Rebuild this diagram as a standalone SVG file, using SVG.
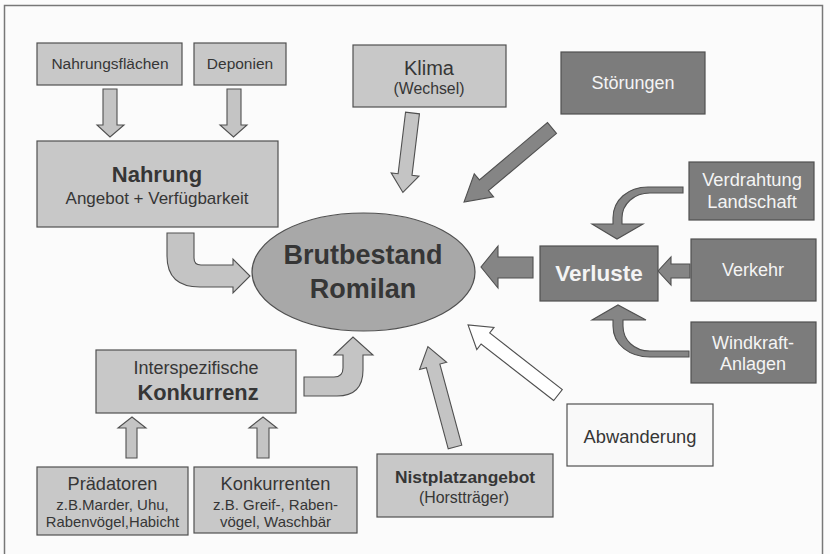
<svg xmlns="http://www.w3.org/2000/svg" width="830" height="554" viewBox="0 0 830 554">
<style>
text{font-family:"Liberation Sans",Arial,sans-serif;text-anchor:middle;fill:#363636}
.lb{fill:#c8c8c8;stroke:#505050;stroke-width:1.2}
.db{fill:#7c7c7c;stroke:#505050;stroke-width:1.2}
.wb{fill:#f9f9f9;stroke:#505050;stroke-width:1.2}
.dt{fill:#f4f4f4}
.b{font-weight:bold}
.la{fill:#c4c4c4;stroke:#505050;stroke-width:1.1;stroke-linejoin:miter}
.da{fill:#858585;stroke:#505050;stroke-width:1.1}
.wa{fill:#ffffff;stroke:#505050;stroke-width:1.1}
</style>
<rect x="0" y="0" width="830" height="554" fill="#fbfbfb"/>
<rect x="4.5" y="5.5" width="818" height="560" fill="none" stroke="#777" stroke-width="1.5"/>

<g id="connectors">
  <polygon class="la" points="103,89 117,89 117,125 124,125 110,137 97,125 103,125"/>
  <polygon class="la" points="227,89 241,89 241,125 247,125 233.5,137 220,125 227,125"/>
  <path class="la" d="M167,233 L194,233 L194,258 Q194,265 201,265 L233,265 L233,259 L250,276 L233,293 L233,287 L200,287 Q167,287 167,256 Z"/>
  <path class="la" d="M304,377 L334,377 Q343,377 343,368 L343,355 L334,355 L353,337 L373,355 L363,355 L363,370 Q363,396 337,396 L304,396 Z"/>
  <polygon class="la" points="0,-7 62,-7 62,-14 80,0 62,14 62,7 0,7" transform="translate(412.5,113) rotate(96.9)"/>
  <polygon class="da" points="0,-7 89,-7 89,-15 115,0 89,15 89,7 0,7" transform="translate(552,128) rotate(139.9)"/>
  <polygon class="la" points="0,-7 84,-7 84,-14 104,0 84,14 84,7 0,7" transform="translate(455,447) rotate(-105.1)"/>
  <polygon class="wa" points="0,-7 92,-7 92,-14 114,0 92,14 92,7 0,7" transform="translate(558,395) rotate(-142.1)"/>
  <polygon class="da" points="533,257 498,257 498,246 481,267 498,288 498,278 533,278"/>
  <polygon class="da" points="690,264 671,264 671,257 658,271 671,285 671,278 690,278"/>
  <path class="da" d="M683,187 L648,187 C628,187 613,200 613,218 L613,224 L592,224 L617,239 L643,224 L622,224 L622,218 C622,204 634,193 650,193 L683,193 Z"/>
  <path class="da" d="M689,351 L650,351 C634,351 623,340 623,326 L623,320 L646,320 L618,305 L592,320 L613,320 L613,326 C613,345 630,357 650,357 L689,357 Z"/>
  <polygon class="la" points="126,458 137,458 137,428 146,428 132,417 118,428 126,428"/>
  <polygon class="la" points="257,458 269,458 269,428 277,428 263,417 249,428 257,428"/>
</g>

<g id="nahrungsflaechen"><rect class="lb" x="37" y="43" width="145" height="42"/><text x="110" y="69" font-size="15.5">Nahrungsflächen</text></g>
<g id="deponien"><rect class="lb" x="194" y="43" width="92" height="42"/><text x="240" y="69" font-size="15.5">Deponien</text></g>
<g id="nahrung"><rect class="lb" x="37" y="141" width="241" height="86"/><text class="b" x="157" y="182" font-size="22">Nahrung</text><text x="157" y="204" font-size="17">Angebot + Verfügbarkeit</text></g>
<g id="klima"><rect class="lb" x="353" y="45" width="153" height="62"/><text x="429" y="75" font-size="20">Klima</text><text x="429" y="94" font-size="15.8">(Wechsel)</text></g>
<g id="stoerungen"><rect class="db" x="561" y="52" width="144" height="62"/><text class="dt" x="633" y="89" font-size="18">Störungen</text></g>
<g id="verdrahtung"><rect class="db" x="689" y="162" width="125" height="58"/><text class="dt" x="752" y="186" font-size="18.3">Verdrahtung</text><text class="dt" x="752" y="208" font-size="18.3">Landschaft</text></g>
<g id="verkehr"><rect class="db" x="691" y="239" width="125" height="62"/><text class="dt" x="753" y="276" font-size="18">Verkehr</text></g>
<g id="verluste"><rect class="db" x="540" y="246" width="118" height="55"/><text class="dt b" x="599" y="281" font-size="22.5">Verluste</text></g>
<g id="windkraft"><rect class="db" x="691" y="322" width="125" height="61"/><text class="dt" x="753" y="349" font-size="18">Windkraft-</text><text class="dt" x="753" y="370" font-size="18">Anlagen</text></g>
<g id="brutbestand"><ellipse cx="363.5" cy="272" rx="111.5" ry="59" fill="#a8a8a8" stroke="#505050" stroke-width="1.2"/><text class="b" x="363" y="264" font-size="27">Brutbestand</text><text class="b" x="363" y="298" font-size="27">Romilan</text></g>
<g id="konkurrenz"><rect class="lb" x="96" y="350" width="200" height="63"/><text x="196" y="374" font-size="18">Interspezifische</text><text class="b" x="198" y="400" font-size="21.8">Konkurrenz</text></g>
<g id="praedatoren"><rect class="lb" x="37" y="467" width="151" height="68"/><text x="112.5" y="490" font-size="18.2">Prädatoren</text><text x="112.5" y="510" font-size="15">z.B.Marder, Uhu,</text><text x="112.5" y="527" font-size="14.8">Rabenvögel,Habicht</text></g>
<g id="konkurrenten"><rect class="lb" x="194" y="467" width="163" height="66"/><text x="275.5" y="490" font-size="18.3">Konkurrenten</text><text x="275.5" y="510" font-size="15">z.B. Greif-, Raben-</text><text x="275.5" y="527" font-size="15">vögel, Waschbär</text></g>
<g id="nistplatz"><rect class="lb" x="377" y="454" width="176" height="63"/><text class="b" x="465" y="483" font-size="17.4">Nistplatzangebot</text><text x="464" y="503" font-size="15.9">(Horstträger)</text></g>
<g id="abwanderung"><rect class="wb" x="567" y="404" width="146" height="62"/><text x="640" y="443" font-size="18.3">Abwanderung</text></g>
</svg>
